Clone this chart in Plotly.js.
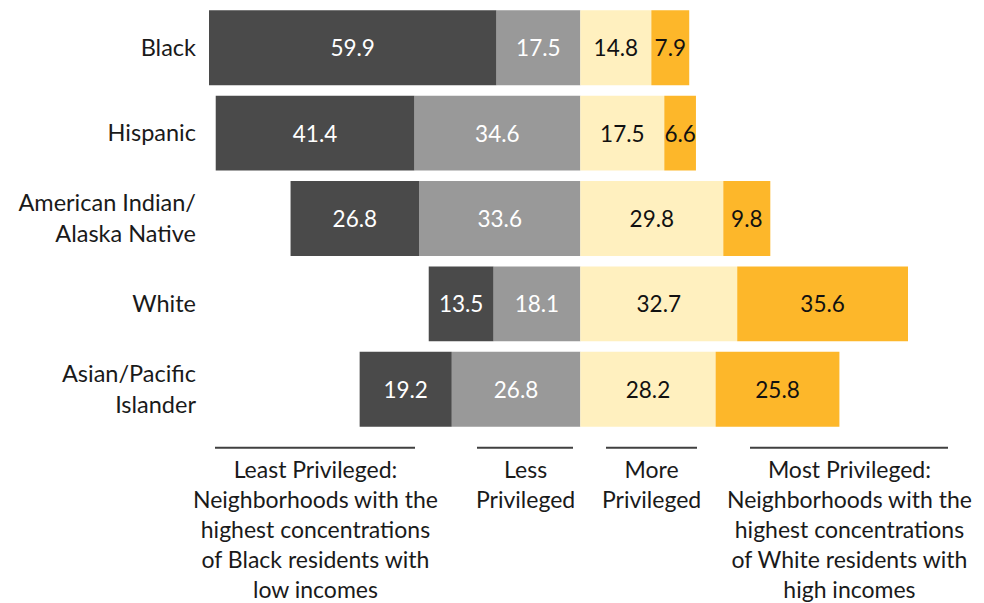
<!DOCTYPE html>
<html><head><meta charset="utf-8">
<script src="https://cdn.plot.ly/plotly-3.0.1.min.js"></script>
<style>html,body{margin:0;padding:0;background:#fff}#chart{width:984px;height:603px}</style>
</head><body><div id="chart"></div>
<script>
const groups = ['Black', 'Hispanic', 'American Indian/<br>Alaska Native', 'White', 'Asian/Pacific<br>Islander'];
const leastPrivileged = [59.9, 41.4, 26.8, 13.5, 19.2];
const lessPrivileged = [17.5, 34.6, 33.6, 18.1, 26.8];
const morePrivileged = [14.8, 17.5, 29.8, 32.7, 28.2];
const mostPrivileged = [7.9, 6.6, 9.8, 35.6, 25.8];
const categoryLabels = [
  'Least Privileged:<br>Neighborhoods with the<br>highest concentrations<br>of Black residents with<br>low incomes',
  'Less<br>Privileged',
  'More<br>Privileged',
  'Most Privileged:<br>Neighborhoods with the<br>highest concentrations<br>of White residents with<br>high incomes'
];

const FONT = 'Lato, "Open Sans", sans-serif';
const neg = a => a.map(v => -v);
const fmt = a => a.map(v => v.toFixed(1));

function bar(vals, negative, color, textColor, name) {
  return {
    type: 'bar', orientation: 'h', name: name,
    y: groups, x: negative ? neg(vals) : vals,
    text: fmt(vals), textposition: 'inside', insidetextanchor: 'middle',
    textangle: 0, constraintext: 'none',
    textfont: {family: FONT, size: 22.5, color: textColor},
    marker: {color: color, line: {width: 0}},
    hoverinfo: 'skip', showlegend: false
  };
}

const traces = [
  bar(lessPrivileged, true, '#999999', '#ffffff', 'Less Privileged'),
  bar(leastPrivileged, true, '#4a4a4a', '#ffffff', 'Least Privileged'),
  bar(morePrivileged, false, '#fff0bf', '#111111', 'More Privileged'),
  bar(mostPrivileged, false, '#fdb72a', '#111111', 'Most Privileged')
];

// pixel helpers for decoration placement (plot area: x 209..908, y 4.75..432.25)
const L = 209, W = 699, T = 4.75, H = 427.5;
const px = p => (p - L) / W;
const py = p => (T + H - p) / H;

const lineSpans = [[215, 415], [477, 573], [606, 697], [750, 948]];
const shapes = lineSpans.map(s => ({
  type: 'line', xref: 'paper', yref: 'paper',
  x0: px(s[0]), x1: px(s[1]), y0: py(448), y1: py(448),
  line: {color: '#404040', width: 2}
}));
const annotations = categoryLabels.map((t, i) => ({
  xref: 'paper', yref: 'paper', x: px((lineSpans[i][0] + lineSpans[i][1]) / 2), y: py(453),
  xanchor: 'center', yanchor: 'top', showarrow: false, align: 'center',
  text: t, font: {family: FONT, size: 23, color: '#1a1a1a'}
}));

const layout = {
  width: 984, height: 603,
  margin: {l: 209, r: 76, t: 4.75, b: 170.75},
  paper_bgcolor: '#ffffff', plot_bgcolor: '#ffffff',
  barmode: 'relative', bargap: 0.123,
  xaxis: {range: [-77.4, 68.3], visible: false, showgrid: false, zeroline: false, fixedrange: true},
  yaxis: {type: 'category', categoryorder: 'array', categoryarray: groups, autorange: 'reversed',
    showgrid: false, zeroline: false, showline: false, ticks: '', ticklabelstandoff: 12,
    tickfont: {family: FONT, size: 23.5, color: '#1a1a1a'}},
  shapes: shapes, annotations: annotations,
  font: {family: FONT}
};

Plotly.newPlot('chart', traces, layout, {displayModeBar: false, staticPlot: true});
</script>
</body></html>
